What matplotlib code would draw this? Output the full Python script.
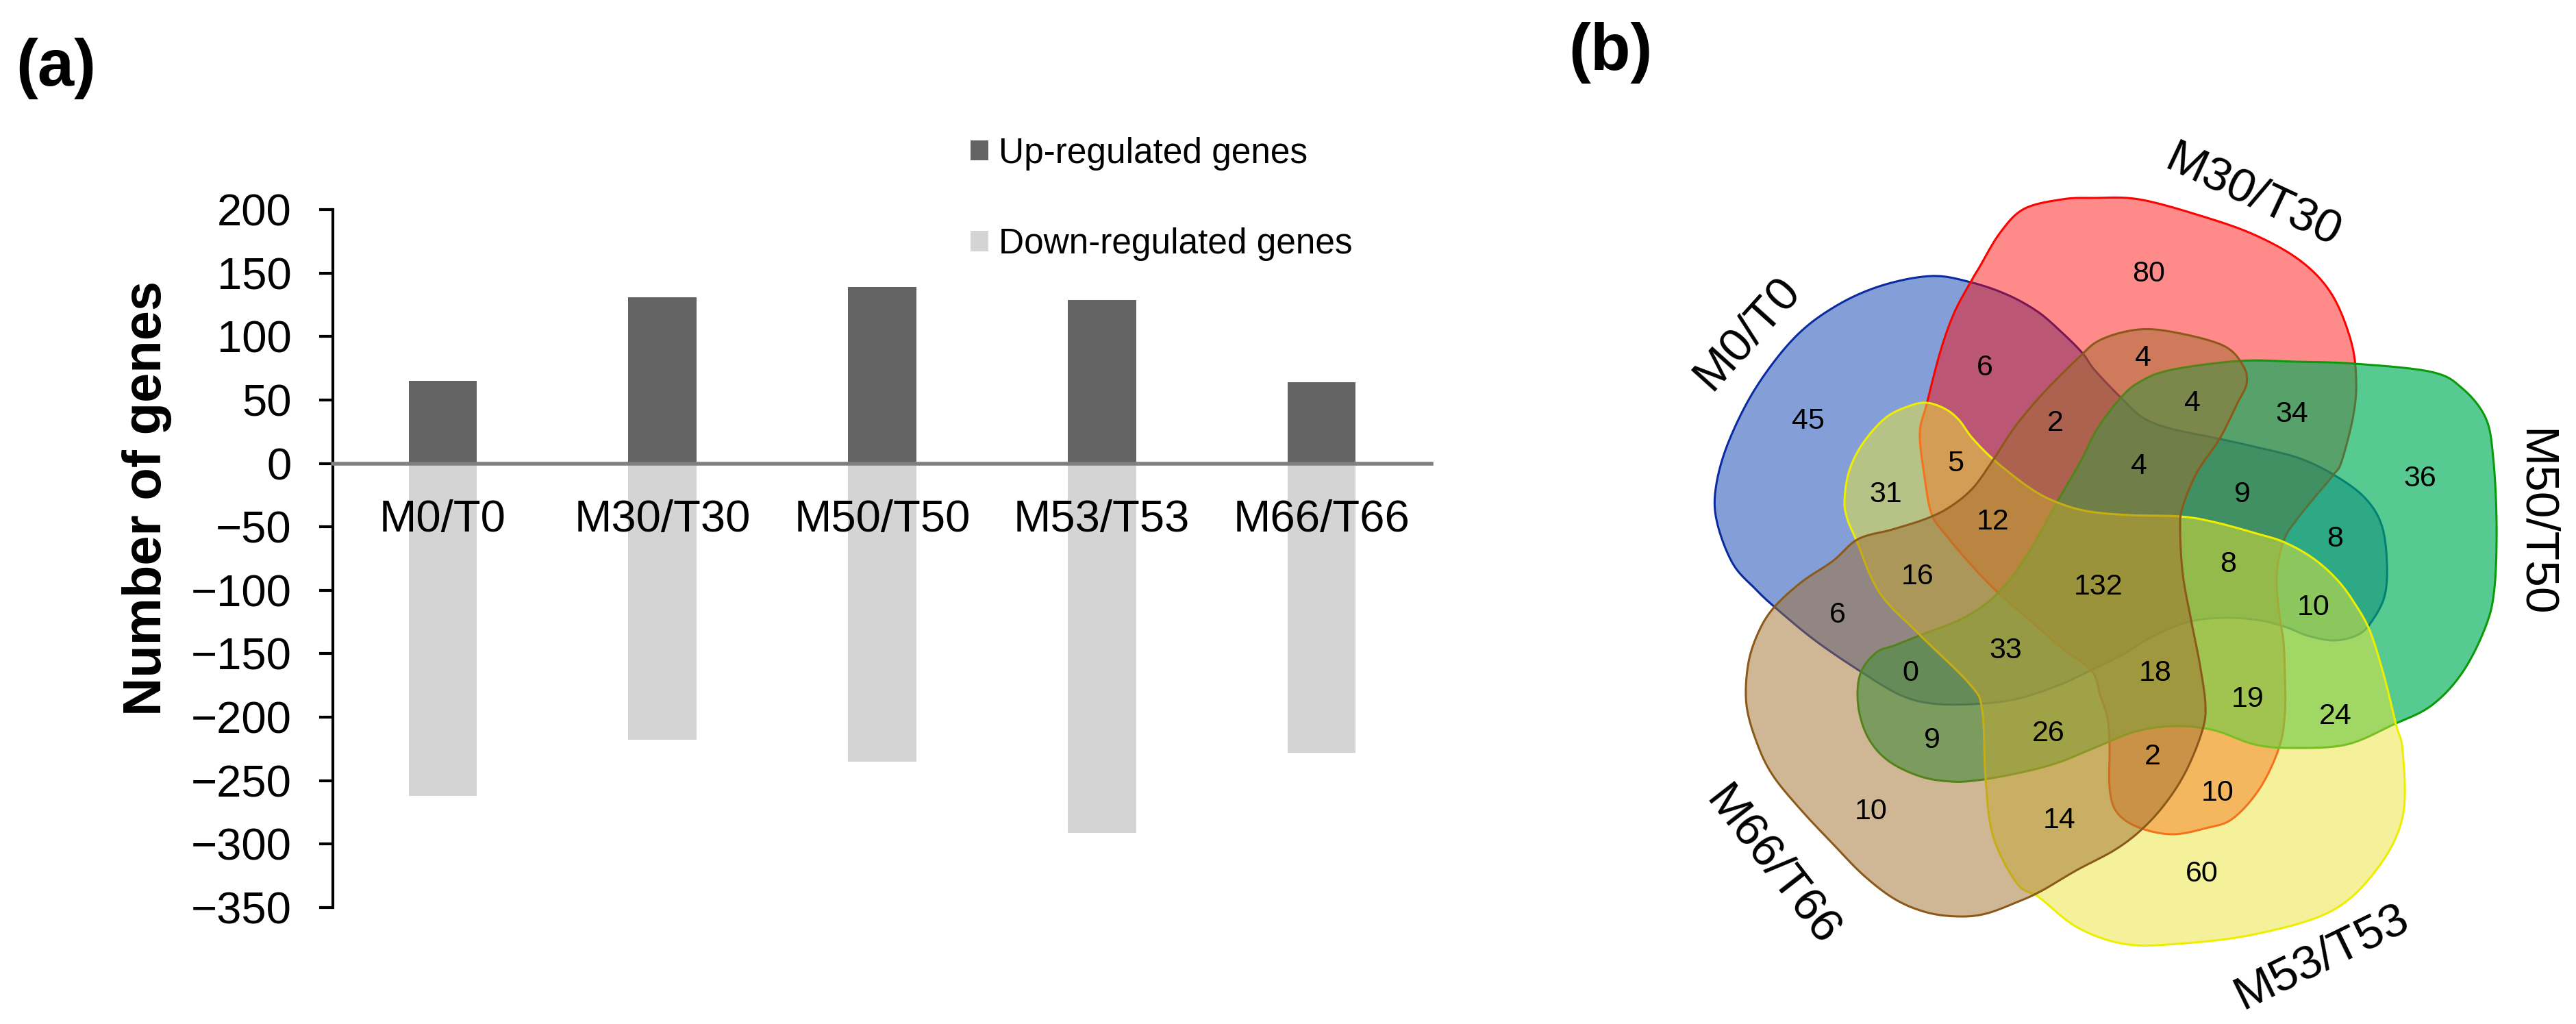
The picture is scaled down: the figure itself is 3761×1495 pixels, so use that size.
import numpy as np
import matplotlib
matplotlib.use("Agg")
import matplotlib.pyplot as plt
from matplotlib.patches import Polygon, Patch

plt.rcParams['font.family'] = ['Liberation Sans', 'DejaVu Sans']

# ---------------- data ----------------
categories = ['M0/T0', 'M30/T30', 'M50/T50', 'M53/T53', 'M66/T66']
up_regulated = [65, 131, 139, 129, 64]
down_regulated = [-262, -218, -235, -291, -228]
y_ticks = [200, 150, 100, 50, 0, -50, -100, -150, -200, -250, -300, -350]
legend_labels = ['Up-regulated genes', 'Down-regulated genes']

set_names = ['M0/T0', 'M30/T30', 'M50/T50', 'M53/T53', 'M66/T66']   # A B C D E
region_keys = ['A', 'B', 'C', 'D', 'E',
               'AB', 'BC', 'CD', 'DE', 'AE',
               'AD', 'BE', 'AC', 'BD', 'CE',
               'ABD', 'BCE', 'ACD', 'BDE', 'ACE',
               'ABE', 'ABC', 'BCD', 'CDE', 'ADE',
               'ABDE', 'ABCE', 'ABCD', 'BCDE', 'ACDE',
               'ABCDE']
region_counts = [45, 80, 36, 60, 10,
                 6, 34, 24, 14, 6,
                 31, 4, 8, 10, 9,
                 5, 4, 10, 2, 0,
                 2, 9, 19, 26, 16,
                 12, 4, 8, 18, 33,
                 132]

# ---------------- layout (pixel positions in the figure) ----------------
W, H = 3761, 1495
region_pos = {
    'A': (2640, 615), 'B': (3137, 400), 'C': (3533, 699), 'D': (3215, 1276), 'E': (2732, 1185),
    'AB': (2898, 537), 'BC': (3346, 605), 'CD': (3410, 1046), 'DE': (3007, 1198), 'AE': (2683, 898),
    'AD': (2753, 722), 'BE': (3129, 523), 'AC': (3409, 787), 'BD': (3238, 1158), 'CE': (2821, 1081),
    'ABD': (2855, 677), 'BCE': (3201, 589), 'ACD': (3378, 887), 'BDE': (3143, 1105), 'ACE': (2789, 983),
    'ABE': (3001, 618), 'ABC': (3274, 722), 'BCD': (3282, 1021), 'CDE': (2991, 1071), 'ADE': (2800, 842),
    'ABDE': (2910, 762), 'ABCE': (3123, 681), 'ABCD': (3253, 824), 'BCDE': (3147, 983), 'ACDE': (2928, 950),
    'ABCDE': (3064, 857),
}
set_label_pos = [(2550, 486, 48), (3289, 286, -25), (3701, 763, -90), (3389, 1397, 26), (2587, 1265, -52)]

shape_outlines = [
    # A  (blue)
    [(2820, 403), (2877, 412), (2930, 430), (2975, 455), (3010, 485), (3040, 515), (3058, 540), (3096, 580),
     (3129, 610), (3170, 626), (3237, 640), (3295, 653), (3357, 669), (3407, 693), (3452, 726), (3477, 766),
     (3485, 822), (3481, 872), (3460, 911), (3440, 928), (3407, 935), (3369, 928), (3336, 915), (3295, 905),
     (3245, 902), (3195, 908), (3145, 928), (3100, 955), (3054, 978), (3004, 1001), (2942, 1021), (2880, 1028),
     (2820, 1027), (2773, 1014), (2716, 980), (2650, 935), (2593, 888), (2563, 860), (2530, 823), (2507, 763),
     (2505, 713), (2523, 647), (2563, 567), (2620, 493), (2680, 447), (2747, 417)],
    # B  (red)
    [(2890, 390), (2920, 340), (2955, 305), (3011, 291), (3056, 289), (3123, 291), (3213, 315), (3292, 343),
     (3359, 381), (3404, 429), (3432, 496), (3440, 553), (3436, 606), (3419, 673), (3407, 693), (3377, 729),
     (3353, 759), (3336, 785), (3326, 822), (3324, 855), (3328, 898), (3334, 938), (3336, 988), (3336, 1040),
     (3328, 1090), (3300, 1150), (3260, 1195), (3221, 1209), (3170, 1218), (3120, 1207), (3090, 1185),
     (3080, 1150), (3080, 1091), (3077, 1049), (3066, 1014), (3054, 980), (3009, 945), (2963, 905), (2917, 865),
     (2880, 827), (2840, 780), (2820, 750), (2810, 697), (2803, 633), (2813, 590), (2833, 513), (2853, 457),
     (2877, 412)],
    # C  (green)
    [(3170, 540), (3269, 527), (3350, 528), (3438, 531), (3550, 543), (3595, 567), (3629, 610), (3640, 667),
     (3645, 763), (3642, 858), (3629, 915), (3595, 982), (3550, 1030), (3494, 1058), (3426, 1087), (3348, 1092),
     (3292, 1087), (3232, 1066), (3175, 1060), (3118, 1068), (3060, 1091), (3003, 1114), (2945, 1129),
     (2888, 1139), (2848, 1141), (2802, 1133), (2756, 1110), (2727, 1076), (2713, 1030), (2716, 984),
     (2739, 953), (2767, 942), (2802, 928), (2871, 900), (2921, 862), (2963, 805), (3004, 732), (3038, 673),
     (3062, 626), (3096, 581), (3125, 557)],
    # D  (yellow)
    [(2787, 593), (2813, 588), (2840, 597), (2860, 613), (2880, 640), (2913, 673), (2963, 712), (3000, 732),
     (3046, 746), (3108, 752), (3183, 754), (3232, 762), (3295, 779), (3336, 792), (3377, 815), (3411, 845),
     (3436, 878), (3460, 921), (3481, 988), (3498, 1057), (3508, 1097), (3508, 1192), (3471, 1268),
     (3404, 1330), (3292, 1364), (3179, 1378), (3101, 1378), (3033, 1354), (2977, 1310), (2945, 1290),
     (2910, 1221), (2899, 1137), (2894, 1037), (2876, 999), (2802, 926), (2744, 865), (2710, 788), (2697, 757),
     (2693, 730), (2700, 687), (2720, 647), (2753, 610)],
    # E  (brown)
    [(3033, 524), (3067, 496), (3123, 481), (3179, 486), (3247, 505), (3275, 534), (3280, 560), (3266, 590),
     (3241, 640), (3208, 689), (3187, 739), (3183, 772), (3187, 839), (3199, 905), (3212, 971), (3220, 1030),
     (3215, 1068), (3192, 1125), (3163, 1171), (3129, 1209), (3089, 1240), (3031, 1271), (2980, 1301),
     (2945, 1317), (2899, 1334), (2859, 1338), (2813, 1332), (2767, 1313), (2721, 1278), (2676, 1232),
     (2630, 1183), (2589, 1133), (2566, 1087), (2550, 1030), (2552, 972), (2566, 926), (2589, 888), (2630, 850),
     (2676, 819), (2713, 787), (2763, 773), (2813, 757), (2847, 740), (2880, 713), (2909, 673), (2942, 623),
     (2984, 573)],
]
fill_colors = [(11/255, 65/255, 179/255), (1.0, 0.0, 0.0), (0.0, 175/255, 90/255),
               (235/255, 229/255, 55/255), (160/255, 110/255, 45/255)]
fill_alphas = [0.5, 0.46, 0.66, 0.5, 0.5]
edge_colors = ['#0a2aa0', '#ff0000', '#0a9a0a', '#eeee00', '#8b5a1a']


def smooth_closed(pts, n=16):
    P = np.asarray(pts, float)
    N = len(P)
    t = np.linspace(0, 1, n, endpoint=False)[:, None]
    out = []
    for i in range(N):
        p0, p1, p2, p3 = P[i - 1], P[i], P[(i + 1) % N], P[(i + 2) % N]
        seg = 0.5 * (2 * p1 + (-p0 + p2) * t + (2 * p0 - 5 * p1 + 4 * p2 - p3) * t ** 2
                     + (-p0 + 3 * p1 - 3 * p2 + p3) * t ** 3)
        out.append(seg)
    return np.vstack(out)


fig = plt.figure(figsize=(W / 100, H / 100), dpi=100)

# ---------------- (a) bar chart ----------------
ax_l, ax_r, ax_t, ax_b = 486, 2090, 306, 1325
ax = fig.add_axes([ax_l / W, 1 - ax_b / H, (ax_r - ax_l) / W, (ax_b - ax_t) / H])
ax.set_axisbelow(False)
x = np.arange(len(categories))
ax.bar(x, up_regulated, width=0.31, color='#636363', zorder=1)
ax.bar(x, down_regulated, width=0.31, color='#d4d4d4', zorder=1)
ax.set_xlim(-0.5, len(categories) - 0.5)
ax.set_ylim(min(y_ticks), max(y_ticks))
ax.set_yticks(y_ticks)
ax.set_xticks(x)
ax.set_xticklabels(categories)
ax.xaxis.set_zorder(4)
for s in ['top', 'right']:
    ax.spines[s].set_visible(False)
ax.spines['bottom'].set_position(('data', 0))
ax.spines['bottom'].set_color('#808080')
ax.spines['bottom'].set_linewidth(4)
ax.spines['bottom'].set_zorder(3)
ax.spines['left'].set_linewidth(3)
ax.tick_params(axis='y', length=14.5, width=3, direction='out', labelsize=47, pad=29)
ax.tick_params(axis='x', length=0, labelsize=47, pad=38)

handles = [Patch(facecolor='#636363'), Patch(facecolor='#d4d4d4')]
fig.legend(handles, legend_labels, loc='upper left', bbox_to_anchor=(1417 / W, 1 - 200 / H),
           frameon=False, fontsize=37, handlelength=0.5, handleheight=0.5, handletextpad=0.3,
           labelspacing=1.62, borderpad=0, borderaxespad=0)

fig.text(215 / W, 1 - 727 / H, 'Number of genes', rotation=90, fontsize=56, fontweight='bold',
         ha='center', va='center')
fig.text(23 / W, 1 - 55 / H, '(a)', fontsize=69, fontweight='bold', ha='left', va='top')
fig.text(2290 / W, 1 - 32 / H, '(b)', fontsize=69, fontweight='bold', ha='left', va='top')

# ---------------- (b) Venn diagram ----------------
vx0 = 2200
vax = fig.add_axes([vx0 / W, 0, (W - vx0) / W, 1])
vax.set_xlim(vx0, W)
vax.set_ylim(H, 0)
vax.axis('off')

for k in range(5):
    xy = smooth_closed(shape_outlines[k])
    vax.add_patch(Polygon(xy, closed=True, facecolor=(*fill_colors[k], fill_alphas[k]),
                          edgecolor=edge_colors[k], linewidth=2.2, zorder=2 + k))

for key, cnt in zip(region_keys, region_counts):
    px, py = region_pos[key]
    vax.text(px, py, str(cnt), fontsize=31, ha='center', va='center', zorder=20)

for name, (px, py, rot) in zip(set_names, set_label_pos):
    vax.text(px, py, name, fontsize=50, ha='center', va='center', rotation=rot,
             rotation_mode='anchor', zorder=20)

fig.savefig('out.png', dpi=100)
